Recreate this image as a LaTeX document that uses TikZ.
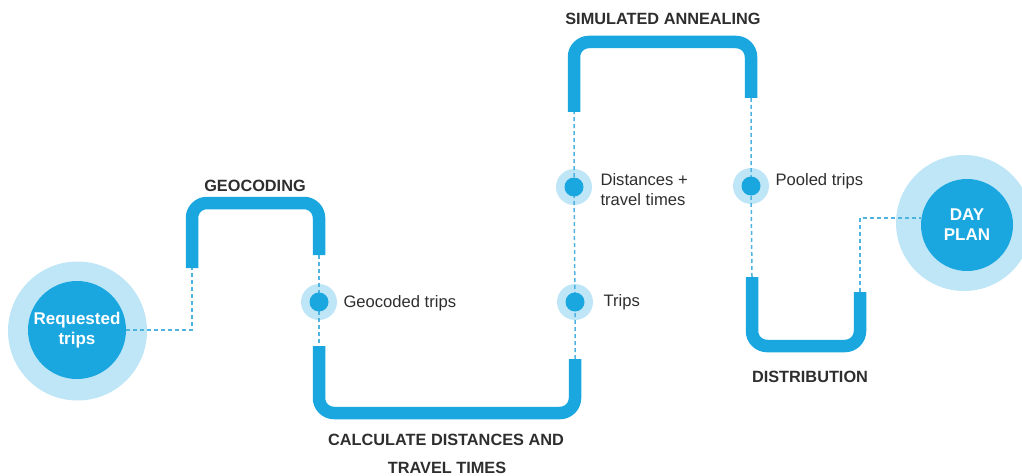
\documentclass[tikz,border=0pt]{standalone}
\usepackage{fontspec}
\setmainfont{Liberation Sans}
\definecolor{mainblue}{HTML}{1AA7E0}
\definecolor{halocol}{HTML}{BFE6F7}
\definecolor{dashblue}{HTML}{4FB3E2}
\definecolor{txt}{HTML}{2E2E2E}
\begin{document}
\begin{tikzpicture}[x=1pt,y=-1pt,
 pipe/.style={draw=mainblue,line width=12.5pt,rounded corners=15pt},
 link/.style={draw=dashblue,line width=1.5pt,dash pattern=on 4pt off 3pt},
 halo/.style={circle,fill=halocol,minimum size=#1,inner sep=0pt},
 dot/.style={circle,fill=mainblue,minimum size=19pt,inner sep=0pt},
 stage/.style={font=\fontsize{16.3}{19}\selectfont\bfseries,text=txt},
 lbl/.style={font=\fontsize{16.6}{20}\selectfont,text=txt,anchor=west,align=left},
 big/.style={circle,fill=mainblue,minimum size=#1,inner sep=0pt,text=white,font=\fontsize{17}{20}\selectfont\bfseries,align=center}]
\useasboundingbox (0,0) rectangle (1022,476);

% halos
\node[halo=139pt] (reqh) at (77.5,331) {};
\node[halo=136pt] (dayh) at (964,223) {};
\node[halo=36pt] (gh) at (319,302) {};
\node[halo=36pt] (th) at (575,302) {};
\node[halo=36pt] (dh) at (574,187) {};
\node[halo=36pt] (ph) at (751,186) {};

% big circles
\node[big=98pt] (req) at (77,330) {Requested\\trips};
\node[big=92pt] (day) at (967,225) {DAY\\PLAN};

% pipe ends
\coordinate (g1) at (192,268);
\coordinate (g2) at (319,255);
\coordinate (c1) at (319,346);
\coordinate (c2) at (575,359);
\coordinate (s1) at (574,112);
\coordinate (s2) at (751,98);
\coordinate (d1) at (752,277);
\coordinate (d2) at (860,292);
\coordinate (k1) at (192,330);
\coordinate (k2) at (860,218);

% pipes
\draw[pipe] (g1) -- (192,203) -- (319,203) -- (g2);
\draw[pipe] (c1) -- (319,413) -- (575,413) -- (c2);
\draw[pipe] (s1) -- (574,42) -- (751,42) -- (s2);
\draw[pipe] (d1) -- (752,346) -- (860,346) -- (d2);

% dashed links
\draw[link] (req.east) -- (k1) -- (g1);
\draw[link] (g2) -- (gh.center) -- (c1);
\draw[link] (c2) -- (th.center) -- (dh.center) -- (s1);
\draw[link] (s2) -- (ph.center) -- (d1);
\draw[link] (d2) -- (k2) -- (k2 -| day.west);

% dots
\node[dot] (gd) at (gh.center) {};
\node[dot] (td) at (th.center) {};
\node[dot] (dd) at (dh.center) {};
\node[dot] (pd) at (ph.center) {};

% labels
\node[lbl] (gl) at (340,303) {Geocoded trips};
\node[lbl] (tl) at (600,302) {Trips};
\node[lbl] (dl) at (597,190) {Distances +\\travel times};
\node[lbl] (pl) at (772,181) {Pooled trips};

\node[stage] (sg) at (255,186) {GEOCODING};
\node[stage] (ss) at (663,19) {SIMULATED ANNEALING};
\node[stage] (sc) at (446,440) {CALCULATE DISTANCES AND};
\node[stage] (sc2) at (447,468) {TRAVEL TIMES};
\node[stage] (sd) at (810,377) {DISTRIBUTION};
\end{tikzpicture}
\end{document}
